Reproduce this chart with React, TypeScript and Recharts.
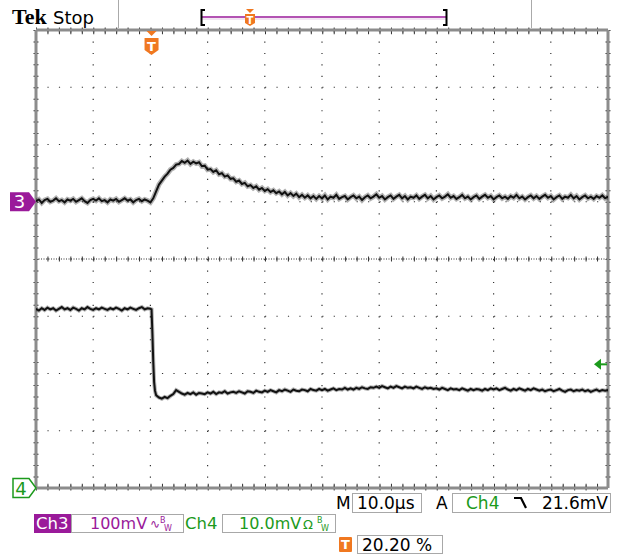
import React from 'react';
import { ComposedChart, Line, XAxis, YAxis, CartesianGrid, ReferenceDot } from 'recharts';

// time base 10 µs/div, 10 divisions across -> 0..100 µs
const timeTicks = [0, 10, 20, 30, 40, 50, 60, 70, 80, 90, 100];
const divTicks = [-4, -3, -2, -1, 0, 1, 2, 3, 4];
const centreX = [50];
const centreY = [0];
const edgeX = [0, 100];
const edgeY = [-4, 4];
const rulerX = [0.45, 99.55];
const rulerY = [-3.95, 3.95];
const triggerTime = 20.2; // 20.20 %
const triggerLevelMv = 21.6;

// one sample every 0.5 µs
const sampleStep = 0.5;

// Ch3, 100 mV/div, ground one division above centre
const ch3Mv = [
  1, 4, -2, 3, 5, 0, 2, 6, 1, 3,
  -1, 4, 2, 5, 0, 3, 6, 1, -2, 3,
  5, 2, 6, 1, 3, -1, 4, 2, 5, 0,
  3, 6, 2, 4, -1, 3, 5, 1, 4, 2,
  -1, 6, 18, 30, 37, 44, 49, 56, 59, 65,
  66, 71, 68, 72, 66, 70, 67, 69, 62, 63,
  56, 57, 52, 55, 48, 50, 44, 46, 40, 41,
  35, 37, 31, 33, 27, 29, 24, 27, 21, 24,
  19, 22, 17, 20, 15, 18, 13, 17, 11, 15,
  10, 14, 8, 12, 7, 11, 6, 10, 5, 10,
  6, 11, 4, 9, 7, 12, 5, 8, 10, 4,
  8, 11, 6, 9, 3, 8, 11, 6, 9, 13,
  7, 10, 4, 8, 11, 5, 9, 12, 6, 10,
  4, 9, 7, 11, 5, 9, 12, 6, 10, 4,
  8, 11, 6, 9, 13, 7, 10, 5, 8, 12,
  6, 9, 4, 8, 11, 5, 9, 12, 7, 10,
  4, 8, 11, 6, 9, 5, 10, 7, 12, 6,
  9, 4, 8, 11, 6, 10, 5, 9, 12, 7,
  10, 4, 8, 11, 5, 9, 7, 12, 6, 10,
  4, 8, 11, 6, 9, 5, 10, 7, 11, 6,
  9,
];

// Ch4, 10 mV/div, ground at the bottom edge
const ch4Mv = [
  31.3, 31.0, 31.4, 31.1, 31.5, 31.2, 31.4, 31.0, 31.3, 31.6,
  31.2, 31.4, 31.1, 31.5, 31.3, 31.0, 31.4, 31.2, 31.6, 31.3,
  31.1, 31.4, 31.2, 31.5, 31.3, 31.1, 31.4, 31.2, 31.5, 31.3,
  31.0, 31.4, 31.2, 31.5, 31.3, 31.1, 31.4, 31.6, 31.2, 31.4,
  31.3, 22.0, 16.2, 15.8, 15.6, 15.9, 15.7, 16.1, 16.4, 17.1,
  16.8, 16.5, 16.3, 16.6, 16.4, 16.7, 16.3, 16.6, 16.5, 16.4,
  16.7, 16.5, 16.8, 16.4, 16.7, 16.6, 16.9, 16.5, 16.7, 16.8,
  16.6, 16.9, 16.7, 16.5, 16.9, 16.8, 16.6, 17.0, 16.8, 16.7,
  17.0, 16.8, 17.1, 16.9, 16.7, 17.1, 16.9, 17.2, 17.0, 16.8,
  17.2, 17.0, 16.9, 17.2, 17.1, 16.9, 17.3, 17.1, 17.0, 17.3,
  17.1, 17.3, 17.0, 17.2, 17.4, 17.1, 17.3, 17.2, 17.5, 17.2,
  17.4, 17.2, 17.5, 17.3, 17.6, 17.4, 17.3, 17.6, 17.5, 17.7,
  17.5, 17.8, 17.6, 17.4, 17.7, 17.5, 17.8, 17.6, 17.4, 17.7,
  17.5, 17.6, 17.4, 17.7, 17.5, 17.3, 17.6, 17.4, 17.5, 17.3,
  17.4, 17.2, 17.5, 17.3, 17.1, 17.4, 17.2, 17.3, 17.1, 17.4,
  17.2, 17.0, 17.3, 17.1, 17.3, 17.2, 17.0, 17.3, 17.1, 17.4,
  17.2, 17.4, 17.1, 17.3, 17.5, 17.2, 17.0, 17.3, 17.1, 17.4,
  17.2, 17.0, 17.3, 17.1, 17.4, 17.2, 17.0, 17.2, 16.9, 17.1,
  17.2, 16.9, 17.1, 17.3, 17.0, 16.8, 17.1, 17.2, 16.9, 17.1,
  17.0, 17.2, 16.9, 17.1, 16.8, 17.0, 17.2, 16.9, 17.1, 17.0,
  17.1,
];
// falling edge detail
const ch4EdgeTimes = [20.2, 20.35, 20.65, 20.8];
const ch4EdgeMv = [31.2, 27.0, 18.5, 17.0];

const ch3Data = ch3Mv.map((v, i) => ({ t: i * sampleStep, v }));
const ch4Data = [
  ...ch4Mv.map((v, i) => ({ t: i * sampleStep, v })),
  ...ch4EdgeTimes.map((t, i) => ({ t, v: ch4EdgeMv[i] })),
].sort((a, b) => a.t - b.t);

const PURPLE = '#9a1a9a';
const GREEN = '#1c9a1c';
const ORANGE = '#f07820';
const UI_FONT = '"DejaVu Sans", sans-serif';

const Ch3Marker = ({ cx, cy }: any) => (
  <g>
    <path d={`M${cx - 26},${cy - 9.5} H${cx - 7} L${cx},${cy} L${cx - 7},${cy + 9.5} H${cx - 26} Z`} fill={PURPLE} />
    <text x={cx - 16.5} y={cy + 6.5} fill="#fff" fontSize={18} fontFamily={UI_FONT} textAnchor="middle">3</text>
  </g>
);

const Ch4Marker = ({ cx, cy }: any) => (
  <g>
    <path d={`M${cx - 23},${cy - 9.5} H${cx - 7} L${cx},${cy} L${cx - 7},${cy + 9.5} H${cx - 23} Z`} fill="#fff" stroke={GREEN} strokeWidth={1.5} />
    <text x={cx - 15} y={cy + 6.5} fill={GREEN} fontSize={18} fontFamily={UI_FONT} textAnchor="middle">4</text>
  </g>
);

const TriggerMarker = ({ cx, cy }: any) => (
  <g>
    <path d={`M${cx - 5},${cy + 1} H${cx + 5} L${cx},${cy + 6} Z`} fill={ORANGE} />
    <path d={`M${cx - 7},${cy + 8} H${cx + 7} V${cy + 20} L${cx},${cy + 25} L${cx - 7},${cy + 20} Z`} fill={ORANGE} />
    <text x={cx} y={cy + 21} fill="#fff" fontSize={13} fontWeight="bold" fontFamily={UI_FONT} textAnchor="middle">T</text>
  </g>
);

const LevelArrow = ({ cx, cy }: any) => (
  <g>
    <path d={`M${cx - 14},${cy} L${cx - 7},${cy - 5.5} V${cy + 5.5} Z`} fill={GREEN} />
    <line x1={cx - 8} y1={cy} x2={cx - 1} y2={cy} stroke={GREEN} strokeWidth={2} />
  </g>
);

const Overlay = () => (
  <svg width={621} height={555} style={{ position: 'absolute', left: 0, top: 0, pointerEvents: 'none' }}>
    {/* header */}
    <text x={12} y={24} fontFamily='"Liberation Serif", serif' fontWeight="bold" fontSize={22}>Tek</text>
    <text x={53} y={24} fontFamily={UI_FONT} fontSize={18}>Stop</text>
    <line x1={118.5} y1={0} x2={118.5} y2={28} stroke="#aaa" />
    <line x1={531.5} y1={0} x2={531.5} y2={28} stroke="#aaa" />
    <line x1={202} y1={17} x2={446} y2={17} stroke={PURPLE} strokeWidth={1.5} />
    <line x1={202} y1={19} x2={446} y2={19} stroke="#e6cce6" strokeWidth={1} />
    <path d="M205,10 H201.5 V25 H205" stroke="#000" strokeWidth={2} fill="none" />
    <path d="M443,10 H446.5 V25 H443" stroke="#000" strokeWidth={2} fill="none" />
    <path d="M246,9 H254 L250,13 Z" fill={ORANGE} />
    <path d="M245,14 H255 V23 L250,26 L245,23 Z" fill={ORANGE} />
    <text x={250} y={24} fill="#fff" fontSize={10} fontWeight="bold" fontFamily={UI_FONT} textAnchor="middle">T</text>

    {/* row 1 */}
    <text x={336} y={509} fontFamily={UI_FONT} fontSize={17}>M</text>
    <rect x={352.5} y={493.5} width={69} height={19} fill="none" stroke="#a8a8a8" />
    <text x={357} y={509} fontFamily={UI_FONT} fontSize={17}>10.0µs</text>
    <text x={436} y={509} fontFamily={UI_FONT} fontSize={17}>A</text>
    <rect x={452.5} y={493.5} width={158} height={19} fill="none" stroke="#a8a8a8" />
    <text x={466} y={509} fontFamily={UI_FONT} fontSize={17} fill={GREEN}>Ch4</text>
    <path d="M514,498 H521 L526,508" stroke="#000" strokeWidth={2.2} fill="none" />
    <text x={608} y={509} fontFamily={UI_FONT} fontSize={17} textAnchor="end">21.6mV</text>

    {/* row 2 */}
    <rect x={34} y={514} width={37} height={19} fill={PURPLE} />
    <text x={36} y={529} fontFamily={UI_FONT} fontSize={16.5} fill="#fff">Ch3</text>
    <rect x={71.5} y={514.5} width={112} height={18} fill="none" stroke="#a8a8a8" />
    <text x={90} y={529} fontFamily={UI_FONT} fontSize={16} fill={PURPLE}>100mV</text>
    <text x={150} y={528} fontFamily={UI_FONT} fontSize={12} fill={PURPLE}>∿</text>
    <text x={160} y={523} fontFamily={UI_FONT} fontSize={8} fill={PURPLE}>B</text>
    <text x={164} y={531} fontFamily={UI_FONT} fontSize={8} fill={PURPLE}>W</text>
    <text x={185} y={529} fontFamily={UI_FONT} fontSize={16.5} fill={GREEN}>Ch4</text>
    <rect x={222.5} y={514.5} width={113} height={18} fill="none" stroke="#a8a8a8" />
    <text x={239} y={529} fontFamily={UI_FONT} fontSize={16} fill={GREEN}>10.0mV</text>
    <text x={303} y={529} fontFamily={UI_FONT} fontSize={13} fill={GREEN}>Ω</text>
    <text x={317} y={523} fontFamily={UI_FONT} fontSize={8} fill={GREEN}>B</text>
    <text x={321} y={531} fontFamily={UI_FONT} fontSize={8} fill={GREEN}>W</text>

    {/* row 3 */}
    <rect x={339} y={537} width={13} height={15} rx={1} fill={ORANGE} />
    <text x={345.5} y={549} fontFamily={UI_FONT} fontSize={13} fontWeight="bold" fill="#fff" textAnchor="middle">T</text>
    <rect x={357.5} y={535.5} width={85} height={18} fill="none" stroke="#a8a8a8" />
    <text x={362} y={551} fontFamily={UI_FONT} fontSize={17}>20.20 %</text>
  </svg>
);

export default function App() {
  return (
    <div style={{ position: 'absolute', left: 0, top: 0, width: 621, height: 555, background: '#fff' }}>
      <ComposedChart width={621} height={555} margin={{ top: 30, right: 13, bottom: 67, left: 36 }}>
        <XAxis dataKey="t" type="number" domain={[0, 100]} ticks={timeTicks} allowDataOverflow hide />
        <XAxis xAxisId="mid" type="number" domain={[0, 100]} ticks={centreX} allowDataOverflow hide />
        <XAxis xAxisId="edge" type="number" domain={[0, 100]} ticks={edgeX} allowDataOverflow hide />
        <XAxis xAxisId="ruler" type="number" domain={[0, 100]} ticks={rulerX} allowDataOverflow hide />
        <YAxis yAxisId="div" type="number" domain={[-4, 4]} ticks={divTicks} allowDataOverflow hide />
        <YAxis yAxisId="midY" type="number" domain={[-4, 4]} ticks={centreY} allowDataOverflow hide />
        <YAxis yAxisId="edgeY" type="number" domain={[-4, 4]} ticks={edgeY} allowDataOverflow hide />
        <YAxis yAxisId="rulerY" type="number" domain={[-4, 4]} ticks={rulerY} allowDataOverflow hide />
        <YAxis yAxisId="ch3" type="number" domain={[-500, 300]} allowDataOverflow hide />
        <YAxis yAxisId="ch4" type="number" domain={[0, 80]} allowDataOverflow hide />

        {/* graticule: dotted divisions, centre crosshair, edge rulers, frame */}
        <CartesianGrid yAxisId="div" stroke="#333" strokeWidth={1.2} strokeDasharray="1.2 10.25" />
        <CartesianGrid xAxisId="mid" yAxisId="midY" stroke="#333" strokeDasharray="1 1.5" />
        <CartesianGrid xAxisId="mid" yAxisId="midY" stroke="#333" strokeWidth={5} strokeDasharray="1 10.45" />
        <CartesianGrid xAxisId="ruler" yAxisId="rulerY" stroke="#333" strokeWidth={3} strokeDasharray="1 10.45" />
        <CartesianGrid xAxisId="edge" yAxisId="edgeY" stroke="#8c8c8c" strokeWidth={3} />

        {/* fuzzy halo + core for each trace */}
        <Line data={ch3Data} yAxisId="ch3" dataKey="v" type="linear" stroke="#000" strokeOpacity={0.3} strokeWidth={5} dot={false} activeDot={false} isAnimationActive={false} />
        <Line data={ch3Data} yAxisId="ch3" dataKey="v" type="linear" stroke="#111" strokeWidth={2} dot={false} isAnimationActive={false} />
        <Line data={ch4Data} yAxisId="ch4" dataKey="v" type="linear" stroke="#000" strokeOpacity={0.3} strokeWidth={4} dot={false} activeDot={false} isAnimationActive={false} />
        <Line data={ch4Data} yAxisId="ch4" dataKey="v" type="linear" stroke="#111" strokeWidth={2} dot={false} isAnimationActive={false} />

        <ReferenceDot yAxisId="ch3" x={0} y={0} ifOverflow="visible" shape={Ch3Marker} />
        <ReferenceDot yAxisId="ch4" x={0} y={0} ifOverflow="visible" shape={Ch4Marker} />
        <ReferenceDot yAxisId="div" x={triggerTime} y={4} ifOverflow="visible" shape={TriggerMarker} />
        <ReferenceDot yAxisId="ch4" x={100} y={triggerLevelMv} ifOverflow="visible" shape={LevelArrow} />
      </ComposedChart>
      <Overlay />
    </div>
  );
}
